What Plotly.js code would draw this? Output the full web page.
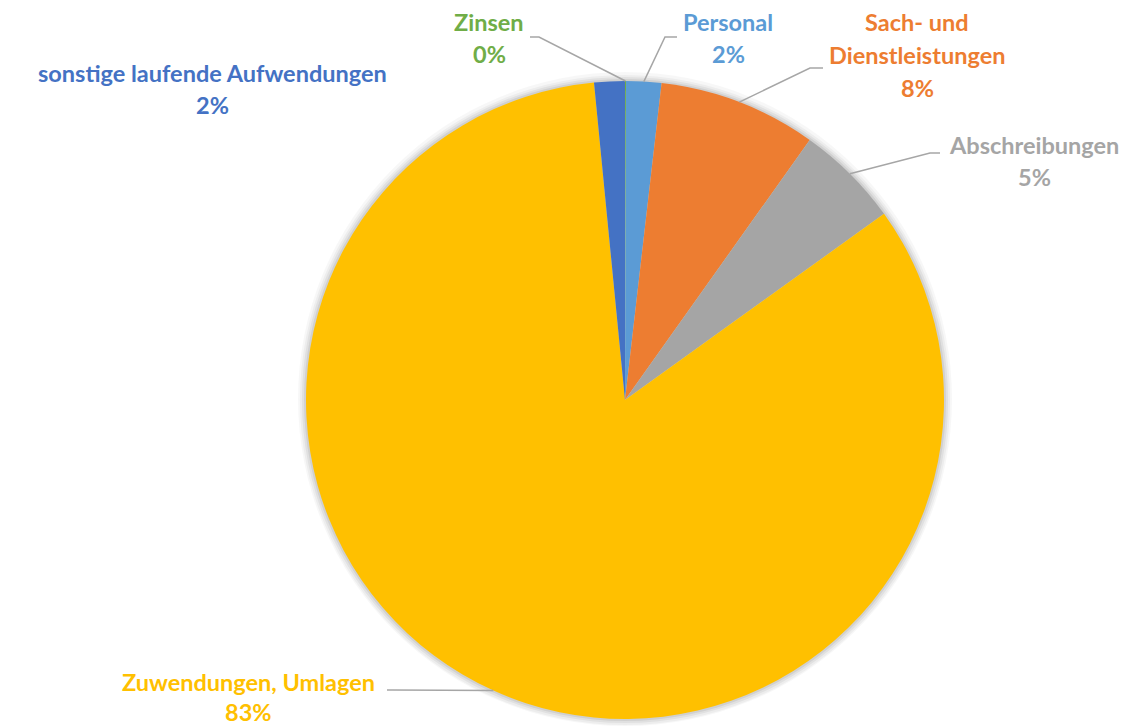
<!DOCTYPE html>
<html>
<head>
<meta charset="utf-8">
<script src="https://cdn.plot.ly/plotly-3.0.1.min.js"></script>
<style>html,body{margin:0;padding:0;background:#fff;}#chart{width:1128px;height:726px;}</style>
</head>
<body>
<div id="chart"></div>
<script>
// ---- data ----
const categories = ["Zinsen", "Personal", "Sach- und Dienstleistungen", "Abschreibungen", "Zuwendungen, Umlagen", "sonstige laufende Aufwendungen"];
const values = [0.05, 1.78, 8.0, 5.25, 83.37, 1.55];
const percentLabels = ["0%", "2%", "8%", "5%", "83%", "2%"];
const labelLines = [["Zinsen"], ["Personal"], ["Sach- und", "Dienstleistungen"], ["Abschreibungen"], ["Zuwendungen, Umlagen"], ["sonstige laufende Aufwendungen"]];
const colors = ["#70AD47", "#5B9BD5", "#ED7D31", "#A5A5A5", "#FFC000", "#4472C4"];

// ---- layout helpers ----
const W = 1128, H = 726;
const CX = 625, CY = 400, R = 319;
const px = x => x / W;
const py = y => 1 - y / H;

// label placement (pixel centre of first line), line gap, leader-line elbow points
const labelPos = [
  {x: 489, y: 22, gap: 32, leader: [[530, 37], [539, 37]]},
  {x: 728, y: 22, gap: 32, leader: [[677, 37], [665, 37]]},
  {x: 917, y: 22, gap: 33, leader: [[823, 68], [810, 68]]},
  {x: 1034, y: 145, gap: 32, leader: [[940, 153], [930, 153]]},
  {x: 248, y: 682, gap: 30, leader: [[387, 690], [392, 690]]},
  {x: 212, y: 73, gap: 32, leader: null}
];

function dom(r) {
  return {x: [px(CX - r), px(CX + r)], y: [py(CY + r), py(CY - r)]};
}

const traces = [];
// soft shadow rings
[[9, 0.03], [6, 0.04], [4, 0.05], [2, 0.07]].forEach(([d, a]) => {
  traces.push({
    type: 'pie', values: [1], labels: ['s' + d], sort: false,
    domain: dom(R + d), textinfo: 'none', hoverinfo: 'skip', showlegend: false,
    marker: {colors: ['rgba(0,0,0,' + a + ')'], line: {width: 0}}
  });
});
traces.push({
  type: 'pie', labels: categories, values: values, sort: false,
  direction: 'clockwise', rotation: 0,
  domain: dom(R), textinfo: 'none', hoverinfo: 'label+percent',
  marker: {colors: colors, line: {width: 0}}, showlegend: false
});

const annotations = [];
const shapes = [];
const total = values.reduce((a, b) => a + b, 0);
let cum = 0;
values.forEach((v, i) => {
  const mid = (cum + v / 2) / total;
  cum += v;
  const lp = labelPos[i];
  const lines = labelLines[i].concat([percentLabels[i]]);
  lines.forEach((t, k) => {
    annotations.push({
      xref: 'paper', yref: 'paper', x: px(lp.x), y: py(lp.y + k * lp.gap),
      xanchor: 'center', yanchor: 'middle', showarrow: false, text: t,
      borderpad: 0,
      font: {family: 'Lato, "Open Sans", sans-serif', size: 23.5, color: colors[i], weight: 'bold'}
    });
  });
  if (lp.leader) {
    const ang = mid * 2 * Math.PI;
    const ex = CX + R * Math.sin(ang), ey = CY - R * Math.cos(ang);
    const pts = lp.leader.concat([[ex, ey]]);
    const path = pts.map((p, k) => (k ? 'L' : 'M') + px(p[0]) + ',' + py(p[1])).join(' ');
    shapes.push({type: 'path', xref: 'paper', yref: 'paper', path: path,
      line: {color: '#A6A6A6', width: 1.5}});
  }
});

const layout = {
  width: W, height: H, margin: {l: 0, r: 0, t: 0, b: 0},
  paper_bgcolor: '#ffffff', plot_bgcolor: '#ffffff',
  showlegend: false, annotations: annotations, shapes: shapes
};
Plotly.newPlot('chart', traces, layout, {displayModeBar: false, staticPlot: true});
</script>
</body>
</html>
